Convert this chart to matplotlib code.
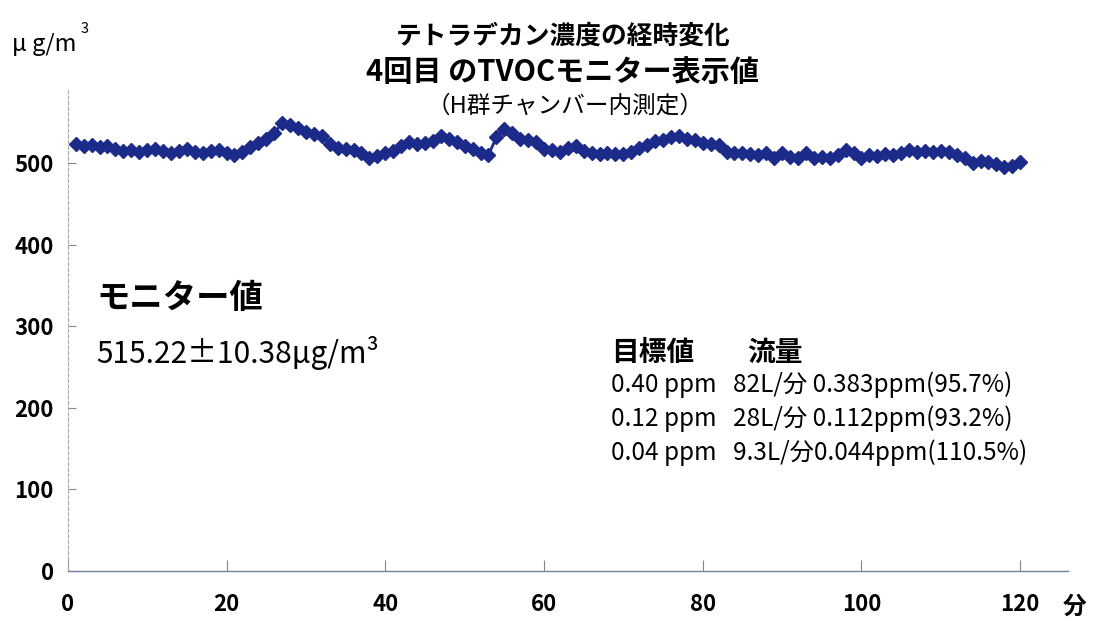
import matplotlib
matplotlib.use("Agg")
import matplotlib.pyplot as plt

plt.rcParams['font.family'] = ['Noto Sans CJK JP', 'DejaVu Sans']

# minutes 1..120, monitor reading (ug/m3)
minutes = list(range(1, 121))
tvoc = [
    523, 521, 522, 520, 521, 518, 515, 516, 514, 516,
    517, 515, 512, 515, 517, 514, 512, 515, 516, 513,
    510, 514, 520, 525, 530, 537, 549, 547, 543, 538,
    536, 534, 524, 519, 518, 516, 512, 507, 509, 512,
    515, 521, 526, 524, 525, 527, 533, 530, 526, 521,
    517, 512, 510, 532, 542, 537, 530, 528, 526, 517,
    516, 514, 519, 521, 515, 512, 511, 512, 511, 511,
    514, 519, 522, 527, 528, 532, 534, 530, 528, 525,
    524, 522, 514, 513, 513, 511, 510, 512, 507, 513,
    508, 507, 513, 507, 508, 506, 510, 516, 512, 507,
    510, 509, 511, 510, 512, 516, 514, 515, 514, 515,
    514, 510, 507, 500, 503, 501, 499, 495, 497, 501,
]

x_ticks = [0, 20, 40, 60, 80, 100, 120]
y_ticks = [0, 100, 200, 300, 400, 500]

title_lines = ["テトラデカン濃度の経時変化", "4回目 のTVOCモニター表示値", "（H群チャンバー内測定）"]
monitor_label = "モニター値"
monitor_value = "515.22±10.38μg/m³"
table_head = ["目標値", "流量"]
table_rows = [
    "0.40 ppm   82L/分 0.383ppm(95.7%)",
    "0.12 ppm   28L/分 0.112ppm(93.2%)",
    "0.04 ppm   9.3L/分0.044ppm(110.5%)",
]

navy = "#1c2a8a"

fig = plt.figure(figsize=(10.93, 6.24), dpi=100)
ax = fig.add_axes([0.062, 0.085, 0.915, 0.771])

ax.plot(minutes, tvoc, color=navy, marker="D", markersize=7.5, linewidth=2)

ax.set_xlim(0, 126)
ax.set_ylim(0, 590)
ax.set_xticks(x_ticks)
ax.set_yticks(y_ticks)
ax.tick_params(axis="both", direction="in", labelsize=16, colors="#888888",
               labelcolor="black")
ax.tick_params(axis="x", length=8, pad=16)
ax.tick_params(axis="y", length=6, pad=10)
for lab in ax.get_xticklabels() + ax.get_yticklabels():
    lab.set_fontweight("bold")

for side in ("top", "right"):
    ax.spines[side].set_visible(False)
ax.spines["left"].set_color("#aaaaaa")
ax.spines["left"].set_linestyle((0, (3, 2)))
ax.spines["left"].set_linewidth(0.8)
ax.spines["bottom"].set_color("#6f7f9f")
ax.spines["bottom"].set_linewidth(1.0)

# titles
fig.text(0.515, 0.942, title_lines[0], ha="center", va="center", fontsize=18.5,
         fontweight="bold")
fig.text(0.515, 0.884, title_lines[1], ha="center", va="center", fontsize=21,
         fontweight="bold")
fig.text(0.517, 0.830, title_lines[2], ha="center", va="center", fontsize=17)

# units
fig.text(0.011, 0.918, "μ g/m", ha="left", va="baseline", fontsize=17)
fig.text(0.074, 0.947, "3", ha="left", va="baseline", fontsize=10.5)
fig.text(0.983, 0.028, "分", ha="center", va="center", fontsize=17, fontweight="bold")

# monitor summary
fig.text(0.088, 0.522, monitor_label, ha="left", va="center", fontsize=24,
         fontweight="bold")
fig.text(0.088, 0.435, monitor_value, ha="left", va="center", fontsize=21.5)

# flow table
fig.text(0.559, 0.434, table_head[0], ha="left", va="center", fontsize=20,
         fontweight="bold")
fig.text(0.684, 0.434, table_head[1], ha="left", va="center", fontsize=20,
         fontweight="bold")
for i, row in enumerate(table_rows):
    fig.text(0.559, 0.383 - i * 0.054, row, ha="left", va="center", fontsize=17.5)

fig.savefig("out.png", dpi=100, facecolor="white")
